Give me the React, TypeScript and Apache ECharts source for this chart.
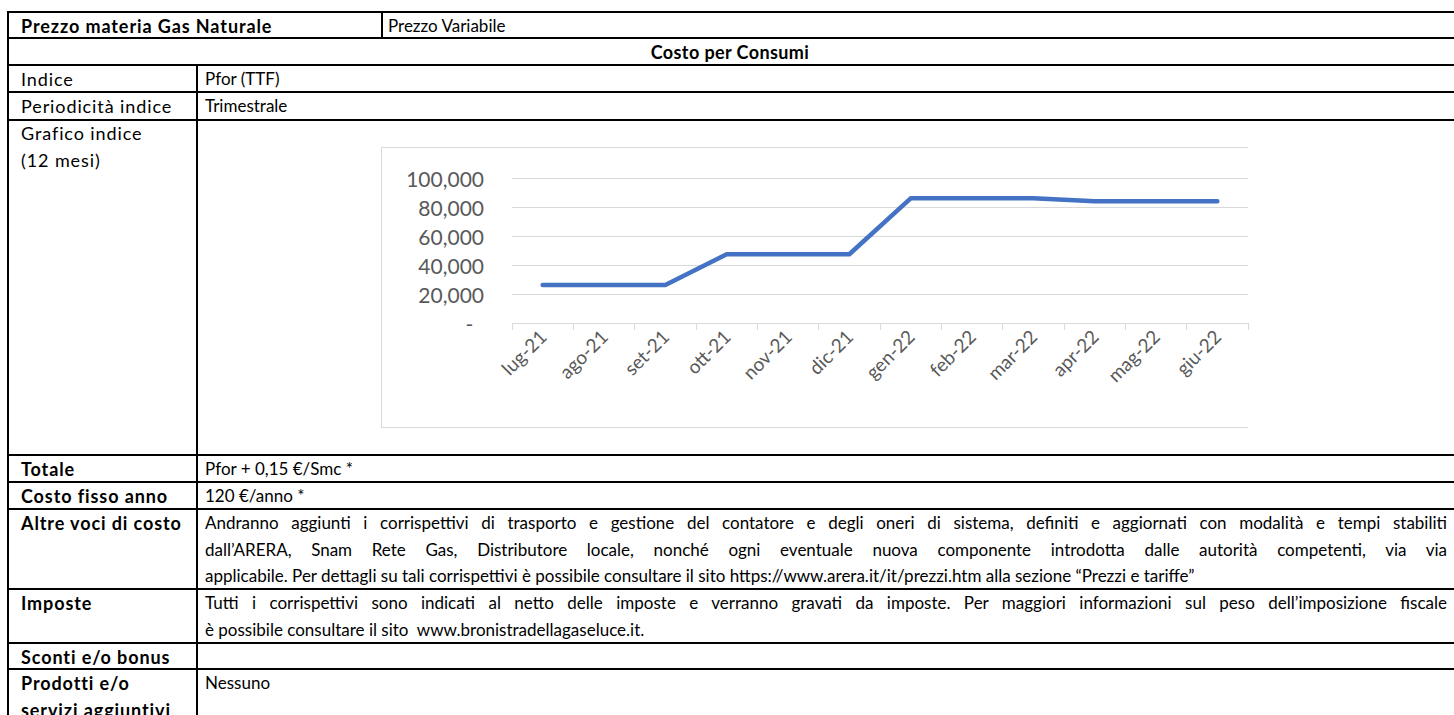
import React, { useEffect, useRef } from "react";
import * as echarts from "echarts";

// ---- chart data ----
const months = [
  "lug-21", "ago-21", "set-21", "ott-21", "nov-21", "dic-21",
  "gen-22", "feb-22", "mar-22", "apr-22", "mag-22", "giu-22",
];
const pforValues = [26200, 26200, 26200, 47400, 47400, 47400, 86000, 86000, 86000, 83900, 83900, 83900];
const yMin = 0;
const yMax = 100000;
const yStep = 20000;

// ---- table texts ----
const altreVoci = [
  "Andranno aggiunti i corrispettivi di trasporto e gestione del contatore e degli oneri di sistema, definiti e aggiornati con modalità e tempi stabiliti",
  "dall’ARERA, Snam Rete Gas, Distributore locale, nonché ogni eventuale nuova componente introdotta dalle autorità competenti, via via",
  "applicabile. Per dettagli su tali corrispettivi è possibile consultare il sito https://www.arera.it/it/prezzi.htm alla sezione “Prezzi e tariffe”",
];
const imposte = [
  "Tutti i corrispettivi sono indicati al netto delle imposte e verranno gravati da imposte. Per maggiori informazioni sul peso dell’imposizione fiscale",
  "è possibile consultare il sito\u00a0 www.bronistradellagaseluce.it.",
];

const FONT = "Lato, 'Open Sans', sans-serif";
const FS = 17;
const LFS = 18;
const LSP = 0.9;
const LH = 26.5;
const LX = 21;

type Block = {
  x: number;
  y: number;
  w?: number;
  lines: string[];
  bold?: boolean;
  justify?: number;
  center?: boolean;
  size?: number;
  spacing?: number;
};

const blocks: Block[] = [
  { x: LX, y: 12, lines: ["Prezzo materia Gas Naturale"], bold: true, size: LFS, spacing: LSP },
  { x: 388, y: 12, lines: ["Prezzo Variabile"] },
  { x: 8, y: 38, w: 1444, lines: ["Costo per Consumi"], bold: true, center: true, size: LFS, spacing: 0.4 },
  { x: LX, y: 65, lines: ["Indice"], size: LFS, spacing: LSP },
  { x: 205, y: 65, lines: ["Pfor (TTF)"] },
  { x: LX, y: 92, lines: ["Periodicità indice"], size: LFS, spacing: LSP },
  { x: 205, y: 92, lines: ["Trimestrale"] },
  { x: LX, y: 119, lines: ["Grafico indice", "(12 mesi)"], size: LFS, spacing: LSP },
  { x: LX, y: 455, lines: ["Totale"], bold: true, size: LFS, spacing: LSP },
  { x: 205, y: 455, lines: ["Pfor + 0,15 €/Smc *"] },
  { x: LX, y: 482, lines: ["Costo fisso anno"], bold: true, size: LFS, spacing: LSP },
  { x: 205, y: 482, lines: ["120 €/anno *"] },
  { x: LX, y: 509, lines: ["Altre voci di costo"], bold: true, size: LFS, spacing: LSP },
  { x: 205, y: 509, w: 1242, lines: altreVoci, justify: 2 },
  { x: LX, y: 589, lines: ["Imposte"], bold: true, size: LFS, spacing: LSP },
  { x: 205, y: 589, w: 1242, lines: imposte, justify: 1 },
  { x: LX, y: 643, lines: ["Sconti e/o bonus"], bold: true, size: LFS, spacing: LSP },
  { x: LX, y: 669, lines: ["Prodotti e/o", "servizi aggiuntivi"], bold: true, size: LFS, spacing: LSP },
  { x: 205, y: 669, lines: ["Nessuno"] },
];

const hLines = [12, 38, 65, 92, 120, 455, 482, 509, 589, 643, 669];

function Chart() {
  const ref = useRef<HTMLDivElement>(null);
  useEffect(() => {
    if (!ref.current) return;
    const chart = echarts.init(ref.current, null, { renderer: "svg" });
    chart.setOption({
      animation: false,
      grid: { left: 130, right: 1, top: 30, bottom: 106, containLabel: false },
      xAxis: {
        type: "category",
        data: months,
        boundaryGap: true,
        axisLine: { show: true, lineStyle: { color: "#D9D9D9", width: 1 } },
        axisTick: { show: true, length: 7, lineStyle: { color: "#D9D9D9", width: 1 } },
        axisLabel: {
          rotate: 45,
          color: "#595959",
          fontSize: 19,
          fontFamily: FONT,
          margin: 10,
          interval: 0,
        },
        splitLine: { show: false },
      },
      yAxis: {
        type: "value",
        min: yMin,
        max: yMax,
        interval: yStep,
        axisLine: { show: false },
        axisTick: { show: false },
        splitLine: { lineStyle: { color: "#D9D9D9", width: 1 } },
        axisLabel: {
          color: "#595959",
          fontSize: 21,
          fontFamily: FONT,
          margin: 28,
          formatter: (v: number) => (v === 0 ? "-\u00a0\u00a0" : v.toLocaleString("en-US")),
        },
      },
      series: [
        {
          type: "line",
          data: pforValues,
          symbol: "none",
          showSymbol: false,
          lineStyle: { color: "#4472C4", width: 4.5, cap: "round", join: "round" },
        },
      ],
    });
    return () => chart.dispose();
  }, []);
  return <div ref={ref} style={{ position: "absolute", left: 0, top: 0, width: 867, height: 281 }} />;
}

export default function App() {
  return (
    <div
      style={{
        position: "fixed",
        left: 0,
        top: 0,
        width: 1454,
        height: 715,
        overflow: "hidden",
        background: "#fff",
        fontFamily: FONT,
        fontSize: FS,
        color: "#000",
      }}
    >
      {hLines.map((y, i) => (
        <div key={"h" + i} style={{ position: "absolute", left: 7, top: y - 1, width: 1460, height: 2, background: "#000" }} />
      ))}
      <div style={{ position: "absolute", left: 7, top: 11, width: 2, height: 720, background: "#000" }} />
      <div style={{ position: "absolute", left: 196, top: 64, width: 2, height: 660, background: "#000" }} />
      <div style={{ position: "absolute", left: 381, top: 11, width: 2, height: 28, background: "#000" }} />

      {blocks.map((b, i) => (
        <div
          key={"b" + i}
          style={{
            position: "absolute",
            left: b.x,
            top: b.y + 1,
            width: b.w,
            fontWeight: b.bold ? 700 : 400,
            fontSize: b.size || FS,
            letterSpacing: b.spacing ? b.spacing + "px" : undefined,
            textAlign: b.center ? "center" : "left",
            lineHeight: LH + "px",
          }}
        >
          {b.lines.map((l, j) => (
            <div
              key={j}
              style={{
                whiteSpace: "nowrap",
                textAlign: b.center ? "center" : b.justify && j < b.justify ? "justify" : "left",
                textAlignLast: b.center ? "center" : b.justify && j < b.justify ? "justify" : "auto",
              }}
            >
              {l}
            </div>
          ))}
        </div>
      ))}

      <div
        style={{
          position: "absolute",
          left: 381,
          top: 147,
          width: 867,
          height: 281,
          borderTop: "1px solid #D9D9D9",
          borderLeft: "1px solid #D9D9D9",
          borderBottom: "1px solid #D9D9D9",
          boxSizing: "border-box",
        }}
      >
        <Chart />
      </div>
    </div>
  );
}
